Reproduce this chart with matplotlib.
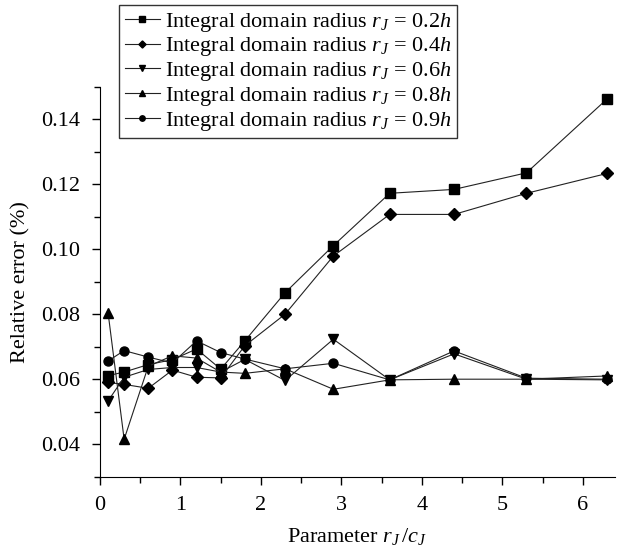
import matplotlib
matplotlib.use("Agg")
import matplotlib.pyplot as plt
from matplotlib.ticker import MultipleLocator

plt.rcParams['font.family'] = ['Liberation Serif', 'DejaVu Serif']
plt.rcParams['mathtext.fontset'] = 'custom'
plt.rcParams['mathtext.rm'] = 'Liberation Serif'
plt.rcParams['mathtext.it'] = 'Liberation Serif:italic'

x = [0.1, 0.3, 0.6, 0.9, 1.2, 1.5, 1.8, 2.3, 2.9, 3.6, 4.4, 5.3, 6.3]

r02 = [0.0611, 0.0622, 0.0645, 0.0660, 0.0693, 0.0631, 0.0718, 0.0866, 0.1011, 0.1172, 0.1184, 0.1235, 0.1462]
r04 = [0.0590, 0.0584, 0.0572, 0.0628, 0.0606, 0.0604, 0.0703, 0.0800, 0.0979, 0.1107, 0.1107, 0.1172, 0.1233]
r06 = [0.0533, 0.0606, 0.0630, 0.0636, 0.0636, 0.0622, 0.0661, 0.0596, 0.0723, 0.0598, 0.0678, 0.0600, 0.0598]
r08 = [0.0805, 0.0415, 0.0640, 0.0672, 0.0665, 0.0622, 0.0618, 0.0632, 0.0569, 0.0598, 0.0600, 0.0600, 0.0610]
r09 = [0.0656, 0.0688, 0.0668, 0.0650, 0.0718, 0.0682, 0.0662, 0.0632, 0.0649, 0.0598, 0.0687, 0.0603, 0.0600]

labels = [r"Integral domain radius $r_J$ = 0.2$h$",
          r"Integral domain radius $r_J$ = 0.4$h$",
          r"Integral domain radius $r_J$ = 0.6$h$",
          r"Integral domain radius $r_J$ = 0.8$h$",
          r"Integral domain radius $r_J$ = 0.9$h$"]
series = [r02, r04, r06, r08, r09]
markers = ['s', 'D', 'v', '^', 'o']
msizes = [6.5, 6, 7.5, 7.5, 6.5]

fig = plt.figure(figsize=(6.18, 5.5), dpi=100)
ax = fig.add_axes([100/618, 1-476.7/550, 515/618, (476.7-86.7)/550])

handles = []
for ys, m, ms, lab in zip(series, markers, msizes, labels):
    h, = ax.plot(x, ys, marker=m, markersize=ms, color='#222222', linewidth=0.8,
                 markerfacecolor='black', markeredgecolor='black', label=lab)
    handles.append(h)

ax.set_xlim(0, 6.4)
ax.set_ylim(0.03, 0.15)
ax.xaxis.set_major_locator(MultipleLocator(1))
ax.xaxis.set_minor_locator(MultipleLocator(0.5))
ax.yaxis.set_minor_locator(MultipleLocator(0.01))
ax.set_yticks([0.04, 0.06, 0.08, 0.10, 0.12, 0.14])
ax.set_yticklabels(['0.04', '0.06', '0.08', '0.10', '0.12', '0.14'])
ax.spines['top'].set_visible(False)
ax.spines['right'].set_visible(False)
ax.tick_params(which='major', direction='out', length=6, width=1, labelsize=16, pad=8)
ax.tick_params(which='minor', direction='out', length=4, width=1)
ax.set_xlabel(r"Parameter $r_J\,/c_J$", fontsize=16, labelpad=8)
ax.set_ylabel("Relative error (%)", fontsize=16, labelpad=8)

leg = fig.legend(handles=handles, loc='upper left', bbox_to_anchor=(119/618, 1-5/550),
                 fontsize=16, frameon=True, fancybox=False, edgecolor='black',
                 handlelength=1.6, handletextpad=0.2, labelspacing=0.08,
                 borderpad=0.25, borderaxespad=0, markerscale=0.6)
leg.get_frame().set_linewidth(1.0)

fig.savefig("out.png", dpi=100)
